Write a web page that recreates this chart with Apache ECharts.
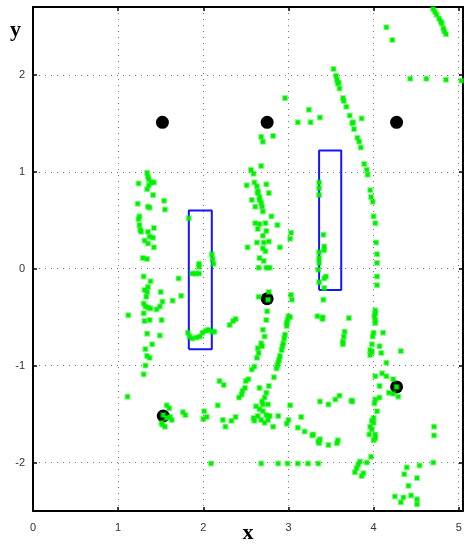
<!DOCTYPE html>
<html>
<head>
<meta charset="utf-8">
<script src="https://cdn.jsdelivr.net/npm/echarts@6/dist/echarts.min.js"></script>
<style>
    html, body {margin: 0; padding: 0; background: #fff;}
    #chart {width: 464px; height: 544px;}
</style>
</head>
<body>
<div id="chart"></div>
<script>
// axis ticks
const xTicks = [0, 1, 2, 3, 4, 5];
const yTicks = [-2, -1, 0, 1, 2];

// black landmarks
const beacons = [[1.52, 1.51], [2.75, 1.51], [4.27, 1.51], [2.75, -0.31], [4.27, -1.22], [1.53, -1.52]];

// blue boxes: [xMin, xMax, yMin, yMax]
const boxes = [[1.83, 2.10, -0.83, 0.60], [3.36, 3.62, -0.22, 1.22]];

// green samples, grouped by area
const leftCluster = [
    [1.34, 0.99], [1.35, 0.95], [1.24, 0.88], [1.36, 0.92], [1.39, 0.89], [1.42, 0.89], [1.36, 0.86],
    [1.34, 0.82], [1.41, 0.76], [1.54, 0.70], [1.23, 0.67], [1.35, 0.64], [1.37, 0.63], [1.55, 0.61],
    [1.25, 0.54], [1.24, 0.51], [1.25, 0.45], [1.26, 0.40], [1.27, 0.38], [1.35, 0.38], [1.42, 0.42],
    [1.37, 0.33], [1.41, 0.32], [1.31, 0.29], [1.35, 0.26], [1.42, 0.22], [1.29, 0.11], [1.34, 0.10],
    [1.30, -0.08], [1.38, -0.13], [1.71, -0.10], [1.31, -0.22], [1.35, -0.19], [1.34, -0.24], [1.33, -0.29],
    [1.50, -0.24], [1.74, -0.28], [1.64, -0.33], [1.52, -0.34], [1.30, -0.36], [1.32, -0.39], [1.35, -0.40],
    [1.38, -0.41], [1.45, -0.42], [1.49, -0.39], [1.12, -0.48], [1.30, -0.46], [1.37, -0.53], [1.31, -0.54],
    [1.51, -0.53], [1.34, -0.67], [1.49, -0.69], [1.40, -0.78], [1.32, -0.83], [1.34, -0.90], [1.37, -0.92],
    [1.32, -1.00], [1.30, -1.09], [1.11, -1.32], [1.57, -1.41], [1.60, -1.44], [1.53, -1.51], [1.57, -1.54],
    [1.61, -1.53], [1.63, -1.56], [1.51, -1.59], [1.55, -1.63], [1.52, -1.61], [1.76, -1.48], [1.79, -1.51],
    [2.00, -1.55], [2.01, -1.47], [2.04, -1.53], [2.09, -2.01]
];
const boxOnePoints = [
    [1.83, 0.52], [1.95, 0.05], [1.95, 0.02], [1.87, -0.05], [1.91, -0.05], [1.95, -0.05], [2.10, 0.15],
    [2.11, 0.10], [2.12, 0.05], [1.82, -0.66], [1.84, -0.70], [1.87, -0.72], [1.92, -0.71], [1.96, -0.70],
    [1.99, -0.66], [2.03, -0.64], [2.06, -0.63], [2.10, -0.65], [2.13, -0.65], [2.31, -0.58], [2.35, -0.54],
    [2.38, -0.52]
];
const centerCluster = [
    [2.96, 1.76], [3.24, 1.64], [3.11, 1.51], [3.26, 1.51], [3.37, 1.56], [2.68, 1.36], [2.70, 1.31],
    [2.82, 1.37], [2.68, 1.06], [2.56, 1.02], [2.59, 0.98], [2.51, 0.86], [2.60, 0.89], [2.63, 0.85],
    [2.64, 0.80], [2.64, 0.78], [2.66, 0.74], [2.66, 0.71], [2.68, 0.68], [2.69, 0.64], [2.70, 0.59],
    [2.74, 0.87], [2.77, 0.78], [2.57, 0.71], [2.61, 0.64], [2.80, 0.54], [2.61, 0.47], [2.66, 0.46],
    [2.73, 0.47], [2.87, 0.45], [2.64, 0.41], [2.74, 0.39], [3.03, 0.37], [3.02, 0.31], [2.70, 0.34],
    [2.63, 0.27], [2.71, 0.27], [2.77, 0.28], [2.52, 0.22], [2.70, 0.21], [2.90, 0.22], [2.73, 0.18],
    [2.66, 0.11], [2.71, 0.08], [2.65, 0.01], [2.74, 0.01], [2.78, 0.01]
];
const boxTwoPoints = [
    [3.36, 0.89], [3.36, 0.83], [3.36, 0.76], [3.41, 0.35], [3.42, 0.23], [3.42, 0.19], [3.36, 0.17],
    [3.36, 0.11], [3.36, 0.06], [3.35, -0.01], [3.44, -0.08], [3.42, -0.10], [3.36, -0.14], [3.42, -0.20],
    [3.41, -0.32]
];
const arcPoints = [
    [3.53, 2.06], [3.56, 1.99], [3.57, 1.95], [3.58, 1.91], [3.59, 1.92], [3.60, 1.86], [3.64, 1.76],
    [3.65, 1.73], [3.68, 1.67], [3.72, 1.58], [3.75, 1.50], [3.76, 1.51], [3.77, 1.44], [3.81, 1.35],
    [3.83, 1.31], [3.85, 1.25], [3.89, 1.08], [3.92, 1.02], [3.93, 0.97], [3.96, 0.81], [3.97, 0.74],
    [3.99, 0.69], [4.00, 0.54], [4.02, 0.47], [4.03, 0.27], [4.04, 0.15], [4.04, 0.06], [4.04, -0.08],
    [4.04, -0.17], [4.02, -0.43], [4.01, -0.49], [4.02, -0.53], [3.86, 1.55]
];
const topRight = [
    [4.15, 2.49], [4.22, 2.36], [4.70, 2.68], [4.72, 2.65], [4.74, 2.62], [4.77, 2.58], [4.79, 2.55],
    [4.80, 2.53], [4.82, 2.48], [4.83, 2.45], [4.85, 2.42], [4.43, 1.96], [4.62, 1.96], [4.85, 1.95],
    [5.03, 1.94]
];
const lowerCenter = [
    [2.77, -0.24], [2.65, -0.29], [2.76, -0.32], [3.03, -0.27], [3.04, -0.32], [3.02, -0.50], [3.34, -0.49],
    [3.40, -0.50], [3.71, -0.51], [2.75, -0.44], [2.74, -0.53], [3.40, -0.52], [2.70, -0.63], [2.72, -0.70],
    [2.68, -0.77], [2.69, -0.80], [2.65, -0.87], [2.64, -0.82], [2.63, -0.92], [2.60, -1.01], [2.57, -1.04],
    [3.00, -0.49], [2.99, -0.53], [2.98, -0.56], [2.98, -0.59], [2.96, -0.68], [2.95, -0.72], [2.94, -0.77],
    [2.93, -0.80], [2.92, -0.84], [2.90, -0.90], [2.89, -0.94], [2.88, -0.97], [2.87, -1.00], [2.86, -1.03],
    [2.53, -1.14], [2.50, -1.16], [2.49, -1.23], [2.46, -1.26], [2.45, -1.30], [2.42, -1.33], [2.83, -1.12],
    [2.66, -1.23], [2.77, -1.21], [2.74, -1.28], [2.72, -1.33], [2.62, -1.42], [2.66, -1.45], [2.70, -1.47],
    [2.74, -1.51], [2.64, -1.52], [2.68, -1.56], [2.76, -1.56], [2.59, -1.54], [2.78, -1.52], [2.82, -1.63],
    [2.72, -1.59], [2.60, -1.57], [2.69, -1.37], [2.70, -1.40], [2.76, -1.40], [2.23, -1.56], [2.26, -1.63],
    [2.33, -1.57], [2.38, -1.53], [2.19, -1.16], [2.24, -1.20], [2.17, -1.41], [2.88, -1.52], [3.02, -1.41],
    [3.00, -1.56], [2.98, -1.60], [3.15, -1.53], [3.11, -1.64], [3.19, -1.68], [3.28, -1.72], [3.29, -1.71],
    [3.35, -1.78], [3.37, -1.76], [3.36, -1.80], [3.47, -1.82], [3.57, -1.80], [3.58, -1.77], [3.37, -1.37],
    [3.47, -1.40], [3.55, -1.35], [3.60, -1.31], [3.75, -1.37], [3.66, -0.65], [3.65, -0.70], [3.64, -0.75],
    [3.64, -0.78], [2.68, -2.01], [2.88, -2.01], [2.99, -2.01], [3.11, -2.01], [3.23, -2.01], [3.35, -2.01]
];
const rightSide = [
    [4.02, -0.46], [4.02, -0.56], [4.00, -0.66], [4.11, -0.66], [3.98, -0.78], [4.07, -0.80], [4.09, -0.87],
    [3.98, -0.86], [4.15, -0.97], [3.96, -0.84], [3.96, -0.89], [3.99, -0.70], [4.32, -0.85], [4.10, -1.08],
    [4.02, -1.11], [4.15, -1.11], [4.23, -1.14], [4.07, -1.21], [4.07, -1.33], [4.02, -1.35], [4.18, -1.28],
    [4.23, -1.29], [4.29, -1.32], [4.27, -1.22], [3.74, -1.36], [4.01, -1.39], [4.04, -1.47], [4.00, -1.54],
    [3.98, -1.57], [4.00, -1.59], [3.96, -1.63], [3.98, -1.66], [3.95, -1.71], [4.02, -1.71], [4.02, -1.75],
    [4.00, -1.77], [3.97, -1.94], [3.92, -2.00], [3.84, -1.99], [3.82, -2.02], [3.80, -2.06], [3.78, -2.10],
    [3.88, -2.11], [3.86, -2.14], [4.39, -2.05], [4.36, -2.12], [4.51, -2.16], [4.41, -2.24], [4.54, -2.03],
    [4.71, -1.63], [4.71, -1.72], [4.70, -2.00], [4.25, -2.35], [4.35, -2.36], [4.44, -2.34], [4.32, -2.41],
    [4.51, -2.38], [4.51, -2.43]
];

const greenGroups = [leftCluster, boxOnePoints, centerCluster, boxTwoPoints, arcPoints, topRight, lowerCenter, rightSide];

const chart = echarts.init(document.getElementById('chart'));

const intLabel = v => Number.isInteger(v) ? String(v) : '';
const frameLine = {onZero: false, lineStyle: {color: '#000', width: 2}};
const tickStyle = {color: '#000', width: 1.5};
const gridLine = {show: true, lineStyle: {color: '#777', width: 1, type: [1, 5]}};
const labelFont = {fontFamily: 'Liberation Sans', fontSize: 11, color: '#333'};
const titleFont = {fontFamily: 'Liberation Serif', fontWeight: 'bold', fontSize: 22, color: '#000'};

const xRange = {type: 'value', min: 0, max: 5.05, splitNumber: 5};
const yRange = {type: 'value', min: -2.5, max: 2.7, splitNumber: 5};

const option = {
    animation: false,
    backgroundColor: '#fff',
    grid: {left: 33, right: 1, top: 7, bottom: 33, containLabel: false, outerBoundsMode: 'none'},
    xAxis: [
        {
            ...xRange,
            position: 'bottom',
            name: 'x',
            nameLocation: 'middle',
            nameGap: 11,
            nameMoveOverlap: false,
            nameTextStyle: titleFont,
            axisLine: frameLine,
            axisTick: {inside: true, length: 4, customValues: xTicks, lineStyle: tickStyle},
            axisLabel: {...labelFont, margin: 11, customValues: xTicks, formatter: intLabel},
            splitLine: gridLine
        },
        {
            ...xRange,
            position: 'top',
            axisLine: frameLine,
            axisTick: {inside: true, length: 4, customValues: xTicks, lineStyle: tickStyle},
            axisLabel: {show: false},
            splitLine: {show: false}
        }
    ],
    yAxis: [
        {
            ...yRange,
            position: 'left',
            name: 'y',
            nameLocation: 'end',
            nameGap: -23,
            nameMoveOverlap: false,
            nameTextStyle: {...titleFont, align: 'right', verticalAlign: 'middle', padding: [0, 12, 0, 0]},
            axisLine: frameLine,
            axisTick: {inside: true, length: 4, customValues: yTicks, lineStyle: tickStyle},
            axisLabel: {...labelFont, margin: 8, customValues: yTicks, formatter: intLabel},
            splitLine: gridLine
        },
        {
            ...yRange,
            position: 'right',
            axisLine: frameLine,
            axisTick: {inside: true, length: 4, customValues: yTicks, lineStyle: tickStyle},
            axisLabel: {show: false},
            splitLine: {show: false}
        }
    ],
    series: [
        {
            type: 'scatter',
            data: beacons,
            symbol: 'circle',
            symbolSize: 13,
            itemStyle: {color: '#000', opacity: 1},
            z: 2
        },
        ...boxes.map(b => ({
            type: 'line',
            data: [[b[0], b[2]], [b[0], b[3]], [b[1], b[3]], [b[1], b[2]], [b[0], b[2]]],
            showSymbol: false,
            lineStyle: {color: '#1414ff', width: 2},
            z: 3
        })),
        {
            type: 'scatter',
            data: greenGroups.flat(),
            symbol: 'rect',
            symbolSize: 4,
            itemStyle: {color: '#00f000', opacity: 1, borderColor: 'rgba(0,240,0,0.45)', borderWidth: 2},
            z: 4
        }
    ]
};

chart.setOption(option);
</script>
</body>
</html>
